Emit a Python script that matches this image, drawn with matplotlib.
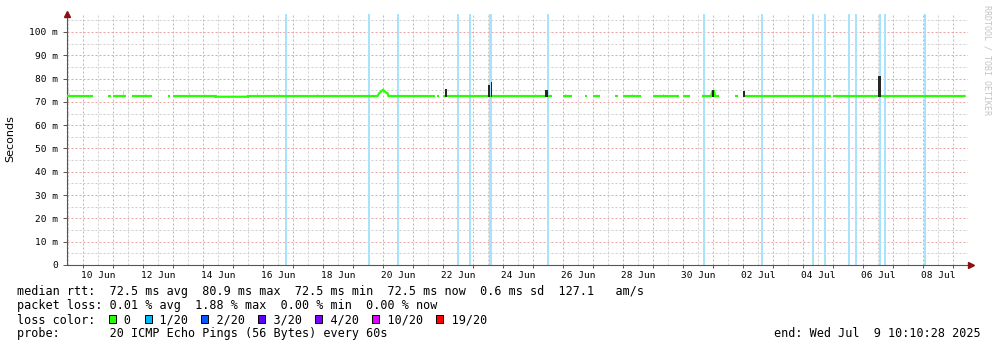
import numpy as np
import pandas as pd
import matplotlib
matplotlib.use("Agg")
import matplotlib.pyplot as plt
from matplotlib.patches import Rectangle

YEAR = "2025-"
NaN = np.nan

# ---- data ---------------------------------------------------------------
# median rtt in ms (NaN = no data -> gap)
med_time = ["06-09 11:12", "06-10 08:00", "06-10 08:00",
            "06-10 20:00", "06-10 22:24", "06-10 22:24",
            "06-11 00:00", "06-11 10:24", "06-11 10:24",
            "06-11 15:12", "06-12 07:12", "06-12 07:12",
            "06-12 20:00", "06-12 21:36", "06-12 21:36",
            "06-13 00:00", "06-14 10:00", "06-14 10:00", "06-15 12:00", "06-15 12:00",
            "06-19 19:36", "06-19 21:00", "06-19 22:48", "06-20 00:00", "06-20 02:00",
            "06-20 03:36", "06-20 04:24", "06-21 17:36", "06-21 17:36",
            "06-21 19:12", "06-21 20:48", "06-21 20:48",
            "06-22 00:00", "06-25 15:12", "06-25 15:12",
            "06-26 00:00", "06-26 07:12", "06-26 07:12",
            "06-26 17:36", "06-26 19:12", "06-26 19:12",
            "06-27 00:00", "06-27 05:36", "06-27 05:36",
            "06-27 17:36", "06-27 20:00", "06-27 20:00",
            "06-28 00:00", "06-28 14:24", "06-28 14:24",
            "06-29 00:00", "06-29 20:48", "06-29 20:48",
            "06-30 00:00", "06-30 05:36", "06-30 05:36",
            "06-30 15:12", "06-30 22:24", "06-30 23:36", "07-01 00:48", "07-01 01:36",
            "07-01 04:48", "07-01 04:48",
            "07-01 17:36", "07-01 20:00", "07-01 20:00",
            "07-02 00:00", "07-04 22:24", "07-04 22:24",
            "07-05 00:00", "07-09 10:10"]
med_rtt = [72.5, 72.5, NaN,
           72.5, 72.5, NaN,
           72.5, 72.5, NaN,
           72.5, 72.5, NaN,
           72.5, 72.5, NaN,
           72.5, 72.5, 72.2, 72.2, 72.5,
           72.5, 73.7, 74.7, 75.1, 74.2,
           73.7, 72.5, 72.5, NaN,
           72.5, 72.5, NaN,
           72.5, 72.5, NaN,
           72.5, 72.5, NaN,
           72.5, 72.5, NaN,
           72.5, 72.5, NaN,
           72.5, 72.5, NaN,
           72.5, 72.5, NaN,
           72.5, 72.5, NaN,
           72.5, 72.5, NaN,
           72.5, 72.5, 74.6, 74.6, 72.5,
           72.5, NaN,
           72.5, 72.5, NaN,
           72.5, 72.5, NaN,
           72.5, 72.5]

# light smoke (upper ping values, ms)
smoke_time = ["06-09 13:36", "06-09 17:36", "06-10 00:48", "06-10 07:12", "06-11 04:00",
              "06-11 08:48", "06-11 21:36", "06-12 02:24", "06-13 04:00", "06-13 13:36",
              "06-14 01:36", "06-14 12:00", "06-15 05:36", "06-15 20:00", "06-16 13:36",
              "06-17 05:36", "06-17 20:00", "06-18 10:24", "06-18 21:36", "06-19 05:36",
              "06-20 16:00", "06-21 05:36", "06-21 12:00", "06-24 07:12", "06-24 12:00",
              "06-24 15:12", "06-25 02:24", "06-26 02:24", "06-26 18:24", "06-28 08:00",
              "06-29 08:48", "06-30 13:36", "07-02 05:36", "07-02 13:36", "07-03 01:36",
              "07-03 08:00", "07-03 13:36", "07-03 21:36", "07-04 04:00", "07-04 12:00",
              "07-04 18:24", "07-05 09:36", "07-05 20:00", "07-06 05:36", "07-07 00:00",
              "07-07 05:36", "07-07 17:36", "07-08 07:12", "07-08 17:36", "07-09 05:36",
              "07-09 08:00"]
smoke_top = [74.0, 73.5, 73.8, 76.0, 74.0,
             74.5, 73.8, 73.5, 73.5, 74.0,
             73.5, 74.0, 73.5, 73.8, 73.5,
             74.0, 73.5, 73.8, 74.2, 73.8,
             74.0, 73.8, 73.5, 74.0, 74.3,
             73.8, 73.5, 73.3, 74.0, 73.5,
             73.2, 73.5, 74.0, 73.8, 73.8,
             75.0, 74.5, 73.5, 73.8, 73.8,
             73.8, 74.0, 73.5, 73.5, 74.0,
             73.7, 73.5, 73.8, 73.5, 74.5,
             74.0]

# dense (dark) smoke spikes
spike_time = ["06-22 02:24", "06-23 12:48", "06-23 14:48", "06-25 10:48",
              "07-01 00:00", "07-02 00:48", "07-06 13:12"]
spike_top = [75.5, 77.2, 78.5, 75.0, 75.0, 74.5, 80.9]
spike_hours = [1.6, 2.4, 0.8, 2.0, 1.6, 1.6, 2.4]

# packet loss events (1/20), with duration in hours
loss_time = ["06-16 18:24", "06-19 12:48", "06-20 12:00", "06-22 12:00", "06-22 21:36",
             "06-23 14:00", "06-25 12:00", "06-30 16:48", "07-02 15:12", "07-04 08:00",
             "07-04 17:36", "07-05 12:48", "07-05 18:24", "07-06 13:36", "07-06 17:36",
             "07-08 01:36"]
loss_hours = [1.2, 1.2, 1.2, 1.2, 1.2,
              2.6, 1.2, 1.2, 1.2, 1.2,
              1.2, 1.2, 1.2, 1.2, 1.2,
              1.2]

xtick_labels = ["10 Jun", "12 Jun", "14 Jun", "16 Jun", "18 Jun", "20 Jun", "22 Jun",
                "24 Jun", "26 Jun", "28 Jun", "30 Jun", "02 Jul", "04 Jul", "06 Jul", "08 Jul"]
ytick_values = [0, 10, 20, 30, 40, 50, 60, 70, 80, 90, 100]
ytick_labels = ["0", "10 m", "20 m", "30 m", "40 m", "50 m", "60 m", "70 m",
                "80 m", "90 m", "100 m"]

loss_names = ["0", "1/20", "2/20", "3/20", "4/20", "10/20", "19/20"]
loss_colors = ["#26ff00", "#00b8ff", "#0059ff", "#5e00ff", "#7e00ff", "#dd00ff", "#ff0000"]

legend_lines = [
    "median rtt:  72.5 ms avg  80.9 ms max  72.5 ms min  72.5 ms now  0.6 ms sd  127.1   am/s",
    "packet loss: 0.01 % avg  1.88 % max  0.00 % min  0.00 % now",
    "loss color:    0    1/20    2/20    3/20    4/20    10/20    19/20",
    "probe:       20 ICMP Echo Pings (56 Bytes) every 60s",
]
box_cells = [13, 18, 26, 34, 42, 50, 59]
end_text = "end: Wed Jul  9 10:10:28 2025"

# ---- figure -------------------------------------------------------------
W, H = 997, 347
fig = plt.figure(figsize=(W / 100, H / 100), dpi=100)
fig.patch.set_facecolor("white")

L, R, T, B = 67, 968, 14, 265
ax = fig.add_axes([L / W, 1 - B / H, (R - L) / W, (B - T) / H])
ax.set_facecolor("white")

def dt(s):
    return pd.to_datetime(YEAR + s)

x_left = dt("06-09 11:12")
x_right = dt("07-09 12:00")
ax.set_xlim(x_left, x_right)
ymax = 107.7
ax.set_ylim(0, ymax)

# grid
minor_col = "#cfcfcf"
major_col = "#eba5a5"
dash = (0, (2, 2))
days = pd.date_range("2025-06-09", "2025-07-10", freq="12h")
for d in days:
    if d <= x_left or d >= x_right:
        continue
    c = major_col if d.hour == 0 else minor_col
    ax.axvline(d, color=c, lw=0.72, ls=dash, zorder=0.5)
for v in np.arange(5, ymax, 5):
    c = major_col if v % 10 == 0 else minor_col
    ax.axhline(v, color=c, lw=0.72, ls=dash, zorder=0.5)

# loss lines
for t, h in zip(loss_time, loss_hours):
    c = dt(t)
    half = pd.Timedelta(hours=h / 2)
    ax.axvspan(c - half, c + half, color="#a8e2fb", lw=0, zorder=1)

# light smoke
st = pd.to_datetime([YEAR + s for s in smoke_time])
ax.bar(st, np.array(smoke_top) - 72.5, bottom=72.5, width=1.0 / 30,
       color="#d6d6d6", lw=0, zorder=2)

# median
mt = pd.to_datetime([YEAR + s for s in med_time])
ax.plot(mt, med_rtt, color="#26ff00", lw=1.6, solid_capstyle="butt",
        solid_joinstyle="miter", zorder=3)

# dark spikes
for t, top, h in zip(spike_time, spike_top, spike_hours):
    ax.bar(dt(t), top - 72.2, bottom=72.2, width=h / 24, color="#262626",
           lw=0, zorder=4)

# axes styling
for s in ["top", "right"]:
    ax.spines[s].set_visible(False)
for s in ["left", "bottom"]:
    ax.spines[s].set_color("#555555")
    ax.spines[s].set_linewidth(0.8)

mono = "DejaVu Sans Mono"
ax.set_yticks(ytick_values)
ax.set_yticklabels(ytick_labels, family=mono, fontsize=6.8)
ax.tick_params(axis="y", length=3, width=0.7, color="#555555", pad=3.5)

xt = [pd.to_datetime(lbl + " 2025 12:00", format="%d %b %Y %H:%M") for lbl in xtick_labels]
ax.set_xticks(xt)
ax.set_xticklabels(xtick_labels, family=mono, fontsize=6.8)
ax.tick_params(axis="x", which="major", length=0, pad=4.5)
ax.set_xticks([d for d in pd.date_range("2025-06-10", "2025-07-09", freq="D")], minor=True)
ax.tick_params(axis="x", which="minor", length=2, width=0.7, color="#555555")

# arrows
ax.plot([0], [1.0], marker="^", color="#8b1010", ms=4, transform=ax.transAxes,
        clip_on=False, zorder=6)
ax.plot([1.003], [0], marker=">", color="#8b1010", ms=4, transform=ax.transAxes,
        clip_on=False, zorder=6)

# axis title & watermark
fig.text(10.5 / W, 1 - 139 / H, "Seconds", rotation=90, ha="center", va="center",
         fontsize=8, family="DejaVu Sans")
fig.text(987 / W, 1 - 60 / H, "RRDTOOL / TOBI OETIKER", rotation=270, ha="center",
         va="center", fontsize=6, family=mono, color="#c4c4c4")

# legend text (monospace)
FS = 8.5
PITCH = 0.602 * FS / 72 * 100
X0 = 16.7
baselines = [295.2, 309.2, 323.2, 337.2]
for line, yb in zip(legend_lines, baselines):
    fig.text(X0 / W, 1 - yb / H, line, family=mono, fontsize=FS,
             ha="left", va="baseline")

for cell, col in zip(box_cells, loss_colors):
    bx = X0 + cell * PITCH
    fig.patches.append(Rectangle((bx / W, 1 - 323 / H), 7 / W, 8 / H,
                                 transform=fig.transFigure, facecolor=col,
                                 edgecolor="black", lw=0.7))

fig.text(980.5 / W, 1 - baselines[3] / H, end_text, family=mono, fontsize=FS,
         ha="right", va="baseline")

fig.savefig("out.png", dpi=100, facecolor="white")
